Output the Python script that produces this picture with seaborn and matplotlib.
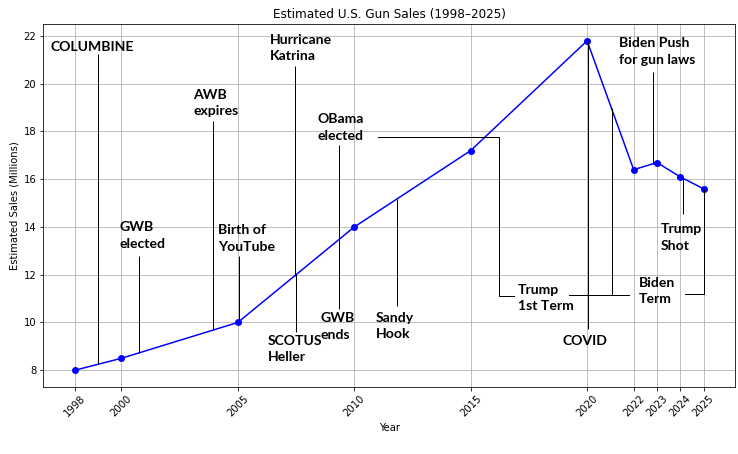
"""
Estimated U.S. gun sales with event call-outs.
"""
import numpy as np
import pandas as pd
import matplotlib

matplotlib.use("Agg")
import matplotlib.pyplot as plt
import seaborn as sns

years = [1998, 2000, 2005, 2010, 2015, 2020, 2022, 2023, 2024, 2025]
sales = [8.0, 8.5, 10.0, 14.0, 17.2, 21.8, 16.4, 16.7, 16.1, 15.6]
y_ticks = [8, 10, 12, 14, 16, 18, 20, 22]

title = "Estimated U.S. Gun Sales (1998\u20132025)"
x_label = "Year"
y_label = "Estimated Sales (Millions)"

# label, text left x, text centre y, leader x, free end of leader
notes = [
    ("COLUMBINE", 1996.94, 21.55, 1999.0, 21.25),
    ("GWB\nelected", 1999.94, 13.65, 2000.77, 12.77),
    ("AWB\nexpires", 2003.08, 19.2, 2003.94, 18.42),
    ("Birth of\nYouTube", 2004.15, 13.52, 2005.06, 12.78),
    ("Hurricane\nKatrina", 2006.38, 21.5, 2007.46, 20.76),
    ("SCOTUS\nHeller", 2006.29, 8.88, 2007.52, 9.6),
    ("OBama\nelected", 2008.43, 18.17, 2009.35, 17.42),
    ("GWB\nends", 2008.56, 9.83, 2009.35, 10.56),
    ("Sandy\nHook", 2010.92, 9.85, 2011.83, 10.68),
    ("COVID", 2018.93, 9.24, 2020.02, 9.72),
    ("Biden Push\nfor gun laws", 2021.35, 21.34, 2022.83, 20.51),
    ("Trump\nShot", 2023.17, 13.57, 2024.13, 14.54),
    ("Trump\n1st Term", 2017.02, 11.03, 2021.05, 11.14),
    ("Biden\nTerm", 2022.21, 11.32, 2025.0, 11.19),
]

# extra bracket segments for the presidential terms
brackets = [
    ([2011.0, 2016.21, 2016.21, 2016.88], [17.78, 17.78, 11.09, 11.09]),
    ([2019.24, 2021.81], [11.14, 11.14]),
    ([2024.22, 2025.0], [11.19, 11.19]),
]

df = pd.DataFrame({"Year": years, "Sales": sales})

fig, ax = plt.subplots(figsize=(738 / 72, 454 / 72), dpi=72)
fig.subplots_adjust(left=0.0587, right=0.9959, bottom=0.1482, top=0.9465)

sns.lineplot(
    data=df, x="Year", y="Sales", ax=ax,
    color="blue", marker="o", markersize=7,
    markeredgewidth=0, linewidth=1.5,
)

for label, tx, ty, lx, ly in notes:
    curve_y = np.interp(lx, years, sales)
    ax.vlines(lx, min(ly, curve_y), max(ly, curve_y), color="black", linewidth=1)
    ax.text(tx, ty, label, ha="left", va="center", fontsize=14,
            fontweight="bold", family="Lato", linespacing=1.45)

for bx, by in brackets:
    ax.plot(bx, by, color="black", linewidth=1)

ax.set_xticks(years)
ax.set_yticks(y_ticks)
plt.xticks(rotation=45)
ax.grid(True)
ax.set_axisbelow(True)
ax.set_title(title)
ax.set_xlabel(x_label)
ax.set_ylabel(y_label)

fig.savefig("out.png", dpi=72)
